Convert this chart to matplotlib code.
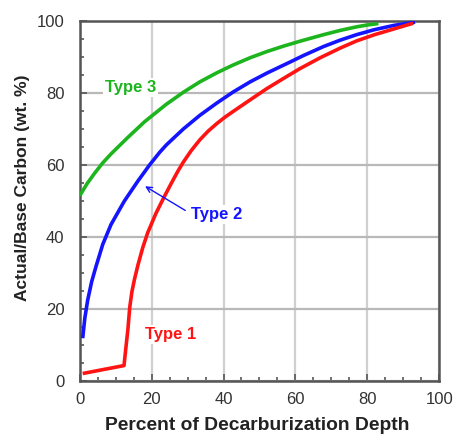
import matplotlib
matplotlib.use("Agg")
import matplotlib.pyplot as plt
from matplotlib.ticker import MultipleLocator

plt.rcParams['font.family'] = ['Liberation Sans', 'DejaVu Sans']

# Type 3 (green)
t3_x = [0, 2.0, 4.1, 6.3, 8.7, 13.4, 18.0, 24.1, 28.8, 33.4, 38.1, 42.7, 47.4, 52.0,
        56.6, 61.3, 67.8, 72.5, 77.1, 80.0, 83.1]
t3_y = [51.5, 54.8, 57.7, 60.5, 63.1, 67.7, 72.0, 76.9, 80.2, 83.1, 85.6, 87.8, 89.8, 91.5,
        93.0, 94.4, 96.2, 97.4, 98.4, 98.9, 99.3]
# Type 2 (blue)
t2_x = [0.8, 1.4, 2.2, 3.3, 4.5, 6.4, 8.7, 12.4, 16.2, 19.4, 22.2, 24.1, 28.8, 33.4, 38.1,
        42.7, 47.4, 52.0, 56.6, 58.5, 62.2, 67.8, 72.5, 77.0, 82.0, 87.5, 93.3]
t2_y = [11.9, 17.5, 22.5, 27.6, 31.8, 38.0, 43.5, 50.0, 55.6, 60.0, 63.5, 65.6, 70.0, 73.8,
        77.2, 80.3, 83.1, 85.5, 87.7, 88.6, 90.4, 92.9, 94.7, 96.2, 97.6, 98.8, 99.7]
# Type 1 (red)
t1_x = [0.8, 12.3, 12.8, 13.4, 13.9, 14.5, 15.2, 16.2, 17.5, 18.9, 21.2, 23.4,
        25.5, 27.3, 28.8, 31.0, 33.4, 35.7, 38.1, 40.4, 42.7, 47.4, 52.0, 56.6,
        61.3, 66.9, 72.5, 77.1, 82.0, 86.4, 92.8]
t1_y = [2.1, 4.3, 9.0, 14.5, 20.5, 24.8, 28.2, 32.3, 37.0, 41.2, 46.6, 51.0,
        55.0, 58.3, 60.8, 64.0, 67.0, 69.4, 71.5, 73.3, 74.9, 78.1, 81.2, 84.0,
        86.8, 89.8, 92.5, 94.5, 96.2, 97.5, 99.4]

labels = ["Type 1", "Type 2", "Type 3"]
x_ticks = [0, 20, 40, 60, 80, 100]
y_ticks = [0, 20, 40, 60, 80, 100]

fig = plt.figure(figsize=(4.56, 4.38), dpi=100)
ax = fig.add_axes([0.175, 0.130, 0.788, 0.822])

ax.set_xlim(0, 100)
ax.set_ylim(0, 100)
ax.set_xticks(x_ticks)
ax.set_yticks(y_ticks)
ax.xaxis.set_minor_locator(MultipleLocator(5))
ax.yaxis.set_minor_locator(MultipleLocator(5))
ax.xaxis.grid(True, which='major', color='#d0d0d0', linewidth=1.6, zorder=0)
ax.yaxis.grid(True, which='major', color='#b8b8b8', linewidth=1.6, zorder=0)
ax.tick_params(which='both', direction='in', colors='#555555', labelcolor='#333333',
               labelsize=12, width=1.2)
ax.tick_params(which='major', length=5)
ax.tick_params(axis='x', which='major', pad=8)
ax.tick_params(axis='y', which='major', pad=11)
ax.tick_params(which='minor', length=3)
for s in ax.spines.values():
    s.set_color('#555555')
    s.set_linewidth(1.8)

kw = dict(lw=2.6, zorder=3, solid_capstyle='butt', solid_joinstyle='round')
ax.plot(t3_x, t3_y, color='#1db51d', **kw)
ax.plot(t2_x, t2_y, color='#1414ff', **kw)
ax.plot(t1_x, t1_y, color='#ff1414', **kw)

bbox = dict(facecolor='white', edgecolor='none', pad=1.5)
ax.text(14.2, 81.4, labels[2], color='#1db51d', fontsize=12, fontweight='bold',
        ha='center', va='center', bbox=bbox, zorder=2)
ax.text(38.2, 46.4, labels[1], color='#1414ff', fontsize=12, fontweight='bold',
        ha='center', va='center', bbox=bbox, zorder=2)
ax.text(25.4, 12.8, labels[0], color='#ff1414', fontsize=12, fontweight='bold',
        ha='center', va='center', bbox=bbox, zorder=2)
ax.annotate('', xy=(17.5, 54.5), xytext=(30.0, 47.0),
            arrowprops=dict(arrowstyle='->', color='#1414ff', lw=1.0), zorder=4)

ax.set_xlabel('Percent of Decarburization Depth', fontsize=13.9, fontweight='bold',
              color='#222222')
ax.set_ylabel('Actual/Base Carbon (wt. %)', fontsize=12.5, fontweight='bold',
              color='#222222')
ax.xaxis.set_label_coords(0.494, -0.099)
ax.yaxis.set_label_coords(-0.138, 0.5375)

fig.savefig('out.png', dpi=100)
